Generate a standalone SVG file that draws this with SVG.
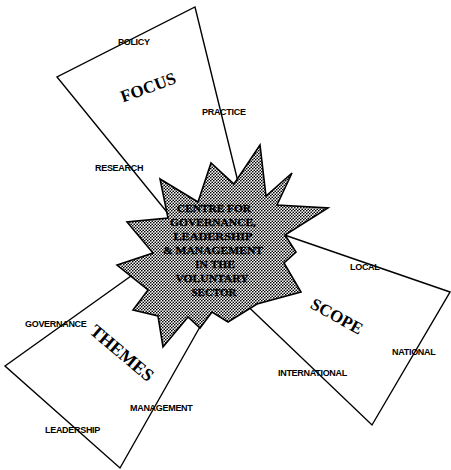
<svg xmlns="http://www.w3.org/2000/svg" width="451" height="470" viewBox="0 0 451 470">
  <style>
    .edge { fill: none; stroke: #000; stroke-width: 1.4; stroke-linejoin: miter; }
    .lbl { font-family: "Liberation Sans", Arial, sans-serif; font-weight: bold; font-size: 9px; fill: #000; letter-spacing: -0.3px; }
    .title { font-family: "Liberation Serif", "Times New Roman", serif; font-weight: bold; font-size: 17px; fill: #000; text-anchor: middle; }
    .ctr { font-family: "Liberation Serif", "Times New Roman", serif; font-weight: bold; font-size: 11px; fill: #000; text-anchor: middle; stroke: #000; stroke-width: 0.3; }
  </style>
  <defs>
    <pattern id="dots" width="3" height="3" patternUnits="userSpaceOnUse">
      <rect width="3" height="3" fill="#fff"/>
      <circle cx="0.75" cy="0.75" r="0.85" fill="#000"/>
      <circle cx="2.25" cy="2.25" r="0.85" fill="#000"/>
    </pattern>
  </defs>
  <rect width="451" height="470" fill="#fff"/>

  <g id="connectors">
    <polyline class="edge" points="175,222 57,77 195,7 240,190"/>
    <polyline class="edge" points="270,230 450,292 372,425 235,294"/>
    <polyline class="edge" points="145,266 5,366 120,468 205,318"/>
  </g>

  <g id="centre">
    <polygon points="260,145 266,196 292,173 277,205 328,208 285,235 296,252 284,263 301,292 257,304 228,322 212,312 200,328 188,317 163,347 158,316 133,310 148,290 117,265 153,253 127,222 168,218 160,179 198,202 211,163 234,184" fill="url(#dots)" stroke="#000" stroke-width="1.6" stroke-linejoin="miter"/>
    <text class="ctr" x="214" y="212" textLength="74" lengthAdjust="spacingAndGlyphs">CENTRE FOR</text>
    <text class="ctr" x="213" y="226" textLength="86" lengthAdjust="spacingAndGlyphs">GOVERNANCE,</text>
    <text class="ctr" x="213" y="240" textLength="79" lengthAdjust="spacingAndGlyphs">LEADERSHIP</text>
    <text class="ctr" x="213" y="254" textLength="100" lengthAdjust="spacingAndGlyphs">&amp; MANAGEMENT</text>
    <text class="ctr" x="215" y="268" textLength="40" lengthAdjust="spacingAndGlyphs">IN THE</text>
    <text class="ctr" x="212" y="282" textLength="73" lengthAdjust="spacingAndGlyphs">VOLUNTARY</text>
    <text class="ctr" x="214" y="296" textLength="45" lengthAdjust="spacingAndGlyphs">SECTOR</text>
  </g>

  <g id="focus">
    <text class="title" transform="translate(148,87) rotate(-20)" y="6">FOCUS</text>
    <text class="lbl" x="118" y="45">POLICY</text>
    <text class="lbl" x="202" y="115">PRACTICE</text>
    <text class="lbl" x="95" y="171">RESEARCH</text>
  </g>

  <g id="scope">
    <text class="title" transform="translate(337,316) rotate(29)" y="6">SCOPE</text>
    <text class="lbl" x="350" y="270">LOCAL</text>
    <text class="lbl" x="392" y="355">NATIONAL</text>
    <text class="lbl" x="278" y="376">INTERNATIONAL</text>
  </g>

  <g id="themes">
    <text class="title" transform="translate(122,353) rotate(40)" y="6" style="font-size:18px">THEMES</text>
    <text class="lbl" x="25" y="327">GOVERNANCE</text>
    <text class="lbl" x="130" y="411">MANAGEMENT</text>
    <text class="lbl" x="45" y="433">LEADERSHIP</text>
  </g>
</svg>
